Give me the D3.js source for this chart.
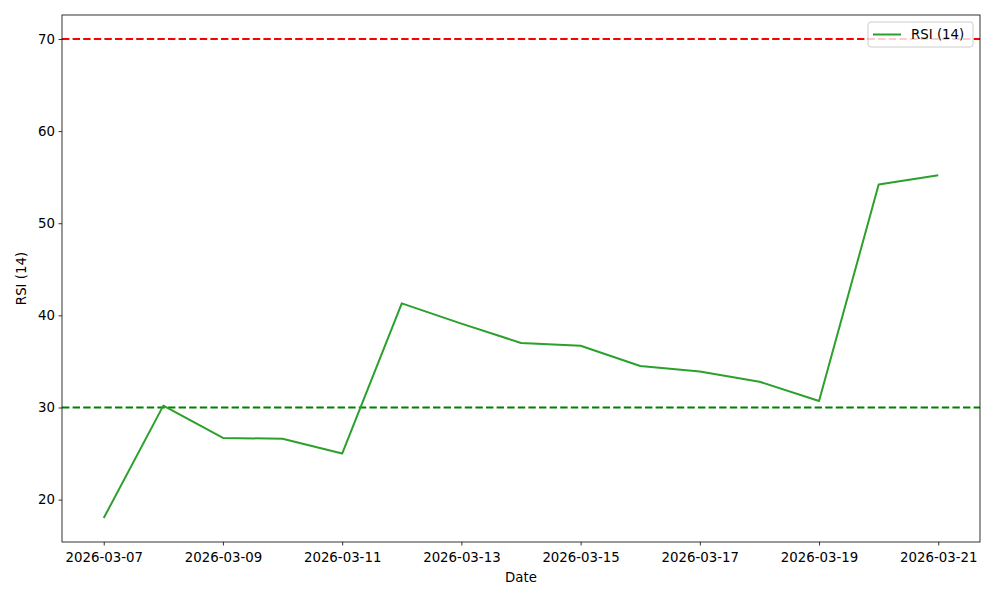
<!DOCTYPE html>
<html>
<head>
<meta charset="utf-8">
<script src="https://cdn.jsdelivr.net/npm/d3@7"></script>
<style>
  body { margin: 0; background: #fff; }
  svg text { font-family: "DejaVu Sans", sans-serif; font-size: 13.33px; fill: #000; }
</style>
</head>
<body>
<div id="chart"></div>
<script>
var dates = ['2026-03-07', '2026-03-08', '2026-03-09', '2026-03-10', '2026-03-11',
             '2026-03-12', '2026-03-13', '2026-03-14', '2026-03-15', '2026-03-16',
             '2026-03-17', '2026-03-18', '2026-03-19', '2026-03-20', '2026-03-21'];
var rsi = [18.0, 30.2, 26.7, 26.6, 25.0, 41.3, 39.1, 37.0, 36.7, 34.5, 33.9, 32.8, 30.7, 54.2, 55.2];
var x_ticks = ['2026-03-07', '2026-03-09', '2026-03-11', '2026-03-13', '2026-03-15',
               '2026-03-17', '2026-03-19', '2026-03-21'];
var y_ticks = [20, 30, 40, 50, 60, 70];
var overbought = 70;
var oversold = 30;
var series_name = 'RSI (14)';

var W = 1000, H = 600;
var m = { left: 62, right: 20, top: 15, bottom: 58 };
var width = W - m.left - m.right;
var height = H - m.top - m.bottom;

var parse = d3.utcParse('%Y-%m-%d');
var data = dates.map((d, i) => ({ t: parse(d), v: rsi[i] }));

var svg = d3.select('#chart').append('svg')
  .attr('width', W)
  .attr('height', H);

var gph = svg.append('g')
  .attr('transform', `translate(${m.left},${m.top})`);

// matplotlib-like 5% margins
var t0 = data[0].t, t1 = data[data.length - 1].t;
var pad_t = (t1 - t0) * 0.05;
var x = d3.scaleUtc()
  .domain([new Date(+t0 - pad_t), new Date(+t1 + pad_t)])
  .range([0, width]);

var vmin = d3.min(rsi.concat([oversold])), vmax = d3.max(rsi.concat([overbought]));
var pad_v = (vmax - vmin) * 0.05;
var y = d3.scaleLinear()
  .domain([vmin - pad_v, vmax + pad_v])
  .range([height, 0]);

var x_axis = gph.append('g')
  .attr('transform', `translate(0,${height})`)
  .call(d3.axisBottom(x)
    .tickValues(x_ticks.map(parse))
    .tickFormat(d3.utcFormat('%Y-%m-%d'))
    .tickSize(3.5)
    .tickPadding(7));

var y_axis = gph.append('g')
  .call(d3.axisLeft(y)
    .tickValues(y_ticks)
    .tickFormat(d3.format('d'))
    .tickSize(3.5)
    .tickPadding(3.5));

[x_axis, y_axis].forEach((a) => {
  a.select('.domain').remove();
  a.selectAll('line').attr('stroke', '#000').attr('stroke-width', 0.8);
  a.selectAll('text').style('font-size', '13.33px');
});

// threshold lines
gph.append('line')
  .attr('x1', 0).attr('x2', width)
  .attr('y1', y(overbought)).attr('y2', y(overbought))
  .attr('stroke', '#ff0000')
  .attr('stroke-width', 2)
  .attr('stroke-dasharray', '7.4,3.2');

gph.append('line')
  .attr('x1', 0).attr('x2', width)
  .attr('y1', y(oversold)).attr('y2', y(oversold))
  .attr('stroke', '#008000')
  .attr('stroke-width', 2)
  .attr('stroke-dasharray', '7.4,3.2');

var line = d3.line()
  .x((d) => x(d.t))
  .y((d) => y(d.v));

gph.append('path')
  .datum(data)
  .attr('fill', 'none')
  .attr('stroke', '#2ca02c')
  .attr('stroke-width', 2)
  .attr('stroke-linejoin', 'round')
  .attr('d', line);

// frame
gph.append('rect')
  .attr('width', width)
  .attr('height', height)
  .attr('fill', 'none')
  .attr('stroke', '#000')
  .attr('stroke-width', 0.8);

// legend
var lg = gph.append('g')
  .attr('transform', `translate(${width - 112},7)`);

lg.append('rect')
  .attr('width', 105)
  .attr('height', 25)
  .attr('rx', 3)
  .attr('fill', '#fff')
  .attr('fill-opacity', 0.8)
  .attr('stroke', '#ccc')
  .attr('stroke-width', 1);

lg.append('line')
  .attr('x1', 5).attr('x2', 33)
  .attr('y1', 12.5).attr('y2', 12.5)
  .attr('stroke', '#2ca02c')
  .attr('stroke-width', 2);

lg.append('text')
  .attr('x', 43)
  .attr('y', 17)
  .text(series_name);

// axis labels
svg.append('text')
  .attr('x', m.left + width / 2)
  .attr('y', H - 18)
  .attr('text-anchor', 'middle')
  .text('Date');

svg.append('text')
  .attr('transform', `translate(26,${m.top + height / 2}) rotate(-90)`)
  .attr('text-anchor', 'middle')
  .text(series_name);
</script>
</body>
</html>
